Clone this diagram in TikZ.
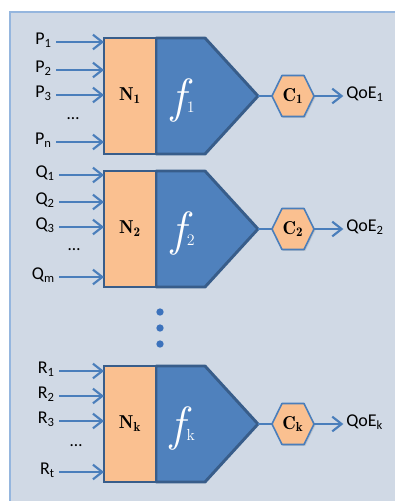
\documentclass[tikz,border=0pt]{standalone}
\usepackage{fontspec}
\newfontfamily\calib{Carlito}
\usetikzlibrary{arrows.meta,calc,shadows}
\definecolor{panel}{HTML}{D0D9E5}
\definecolor{panelline}{HTML}{95B6DE}
\definecolor{orangefill}{HTML}{FAC090}
\definecolor{bluefill}{HTML}{4F81BD}
\definecolor{darkline}{HTML}{385D8A}
\definecolor{arrowblue}{HTML}{4A7EBB}
\definecolor{dotblue}{HTML}{3C72BC}
\newcommand\fglyph[1]{{\fontsize{36}{36}\selectfont\itshape f}\kern1pt{\fontsize{12}{12}\selectfont #1}}
\begin{document}
\begin{tikzpicture}[x=0.75pt,y=-0.75pt,
  inlabel/.style={font=\calib\fontsize{13.5}{13.5}\selectfont, inner sep=0pt, anchor=mid east},
  dotslabel/.style={font=\calib\fontsize{13}{13}\selectfont, inner sep=0pt, anchor=base},
  outlabel/.style={font=\calib\fontsize{13.5}{13.5}\selectfont, inner sep=0pt, anchor=mid west},
  inarrow/.style={draw=arrowblue, line width=1.6pt, shorten <=3pt, -{Straight Barb[length=7pt,width=11pt]}},
  outarrow/.style={draw=arrowblue, line width=1.6pt, shorten >=2pt, -{Straight Barb[length=7pt,width=11pt]}},
  link/.style={draw=arrowblue, line width=1.6pt},
  nbox/.style={draw=darkline, fill=orangefill, line width=2.2pt, outer sep=0pt, minimum width=39pt, minimum height=87pt, inner sep=0pt, font=\bfseries\fontsize{14}{14}\selectfont},
  fshape/.style={draw=darkline, fill=bluefill, line width=2.2pt, line join=round},
  flabel/.style={text=white, inner sep=0pt},
  hexshape/.style={draw=arrowblue, fill=orangefill, line width=1.2pt, line join=round, drop shadow={opacity=0.25, shadow xshift=1pt, shadow yshift=-1pt}},
  hexlabel/.style={minimum width=31.5pt, minimum height=30.75pt, inner sep=0pt, outer sep=0pt, font=\bfseries\fontsize{14}{14}\selectfont},
  vdot/.style={circle, fill=dotblue, inner sep=0pt, minimum size=5.5pt}
]
\useasboundingbox (0,0) rectangle (395,501);
% panel
\fill[panel] (10,12) rectangle (395,501);
\draw[panelline, line width=1.2pt] (10,501) -- (10,12) -- (395,12);

% ===== block 1 =====
\node[nbox] (N1) at (130,96) {};
\draw[fshape] (N1.north east) -- ++(49,0) -- ($(N1.east)+(102,0)$) -- ($(N1.south east)+(49,0)$) -- (N1.south east) -- cycle;
\node[nbox] at (N1) {$\mathbf{N}_{\mathbf{1}}$};
\coordinate (t1) at ($(N1.east)+(102,0)$);
\node[flabel] (F1) at (183,100) {\fglyph{1}};
\coordinate (h1) at (293,96);
\draw[hexshape] (h1) ++(-21,0) -- ++(10,-20.5) -- ++(22,0) -- ++(10,20.5) -- ++(-10,20.5) -- ++(-22,0) -- cycle;
\node[hexlabel] (C1) at (h1) {$\mathbf{C}_{\mathbf{1}}$};
\draw[link] (t1) -- (C1.west);
\node[outlabel] (O1) at (346,96) {QoE\textsubscript{1}};
\draw[outarrow] (C1.east) -- (C1.east -| O1.west);
\node[inlabel] (p1) at (52,42) {P\textsubscript{1}};
\node[inlabel] (p2) at (52,70) {P\textsubscript{2}};
\node[inlabel] (p3) at (52,95) {P\textsubscript{3}};
\node[dotslabel] (pd) at (73,119) {…};
\node[inlabel] (pn) at (52,142) {P\textsubscript{n}};
\foreach \a in {p1,p2,p3,pn} \draw[inarrow] (\a.mid east) -- (\a.mid east -| N1.west);

% ===== block 2 =====
\node[nbox] (N2) at (130,229) {};
\draw[fshape] (N2.north east) -- ++(49,0) -- ($(N2.east)+(102,0)$) -- ($(N2.south east)+(49,0)$) -- (N2.south east) -- cycle;
\node[nbox] at (N2) {$\mathbf{N}_{\mathbf{2}}$};
\coordinate (t2) at ($(N2.east)+(102,0)$);
\node[flabel] (F2) at (183,233) {\fglyph{2}};
\coordinate (h2) at (293,229);
\draw[hexshape] (h2) ++(-21,0) -- ++(10,-20.5) -- ++(22,0) -- ++(10,20.5) -- ++(-10,20.5) -- ++(-22,0) -- cycle;
\node[hexlabel] (C2) at (h2) {$\mathbf{C}_{\mathbf{2}}$};
\draw[link] (t2) -- (C2.west);
\node[outlabel] (O2) at (346,229) {QoE\textsubscript{2}};
\draw[outarrow] (C2.east) -- (C2.east -| O2.west);
\node[inlabel] (q1) at (55,175) {Q\textsubscript{1}};
\node[inlabel] (q2) at (55,202) {Q\textsubscript{2}};
\node[inlabel] (q3) at (55,227) {Q\textsubscript{3}};
\node[dotslabel] (qd) at (74,250) {…};
\node[inlabel] (qm) at (55,277) {Q\textsubscript{m}};
\foreach \a in {q1,q2,q3,qm} \draw[inarrow] (\a.mid east) -- (\a.mid east -| N2.west);

% ===== vertical dots =====
\node[vdot] (d1) at (160,312) {};
\node[vdot] (d2) at (160,328) {};
\node[vdot] (d3) at (160,344) {};

% ===== block k =====
\node[nbox] (Nk) at (130,424) {};
\draw[fshape] (Nk.north east) -- ++(49,0) -- ($(Nk.east)+(102,0)$) -- ($(Nk.south east)+(49,0)$) -- (Nk.south east) -- cycle;
\node[nbox] at (Nk) {$\mathbf{N}_{\mathbf{k}}$};
\coordinate (tk) at ($(Nk.east)+(102,0)$);
\node[flabel] (Fk) at (183,428) {\fglyph{k}};
\coordinate (hk) at (293,424);
\draw[hexshape] (hk) ++(-21,0) -- ++(10,-20.5) -- ++(22,0) -- ++(10,20.5) -- ++(-10,20.5) -- ++(-22,0) -- cycle;
\node[hexlabel] (Ck) at (hk) {$\mathbf{C}_{\mathbf{k}}$};
\draw[link] (tk) -- (Ck.west);
\node[outlabel] (Ok) at (346,424) {QoE\textsubscript{k}};
\draw[outarrow] (Ck.east) -- (Ck.east -| Ok.west);
\node[inlabel] (r1) at (55,371) {R\textsubscript{1}};
\node[inlabel] (r2) at (55,396) {R\textsubscript{2}};
\node[inlabel] (r3) at (55,421) {R\textsubscript{3}};
\node[dotslabel] (rd) at (76,446) {…};
\node[inlabel] (rt) at (55,472) {R\textsubscript{t}};
\foreach \a in {r1,r2,r3,rt} \draw[inarrow] (\a.mid east) -- (\a.mid east -| Nk.west);
\end{tikzpicture}
\end{document}
